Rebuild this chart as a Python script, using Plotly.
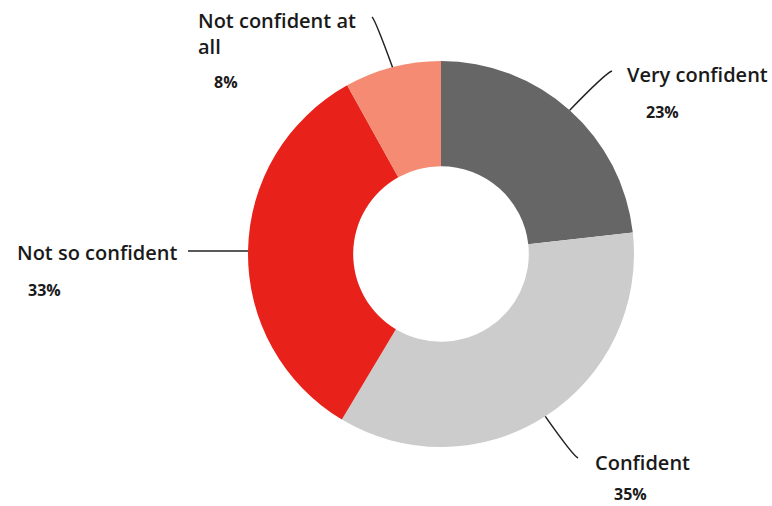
import math
import plotly.graph_objects as go

categories = ["Very confident", "Confident", "Not so confident", "Not confident at all"]
values = [23, 35, 33, 8]
pct_labels = ["23%", "35%", "33%", "8%"]
label_text = ["Very confident", "Confident", "Not so confident", "Not confident at<br>all"]
colors = ["#666666", "#cccccc", "#e8211a", "#f58b72"]

W, H = 772, 506
CX, CY, R = 441, 254, 193
HOLE = 0.455

fig = go.Figure()
fig.add_trace(go.Pie(
    labels=categories, values=values, hole=HOLE, sort=False, direction="clockwise",
    rotation=0, marker=dict(colors=colors, line=dict(width=0)),
    textinfo="none", hoverinfo="label+percent", showlegend=False,
    domain=dict(x=[(CX - R) / W, (CX + R) / W], y=[(H - CY - R) / H, (H - CY + R) / H]),
))

# label layout: (label x, label y, anchor, pct x, pct y, end x, end y)
layout_cfg = [
    (625, 74, "left", 662, 112, 612, 71),
    (593, 462, "left", 630, 494, 578, 458),
    (15, 252, "left", 44, 290, 188, 251),
    (196, 33, "left", 226, 82, 372, 17),
]

total = sum(values)
cum = 0
shapes = []
annotations = []
for i, v in enumerate(values):
    mid = (cum + v / 2) / total * 2 * math.pi
    cum += v
    sx = CX + R * math.sin(mid)
    sy = CY - R * math.cos(mid)
    lx, ly, anc, px, py, ex, ey = layout_cfg[i]
    cx_ = sx + (ex - sx) * (0.85 if abs(math.sin(mid)) < 0.9 else 0.5)
    cy_ = sy + (ey - sy) * 0.95
    if i == 2:
        path = f"M {sx:.1f} {sy:.1f} L {ex:.1f} {ey:.1f}"
    else:
        path = f"M {sx:.1f} {sy:.1f} Q {cx_:.1f} {cy_:.1f} {ex:.1f} {ey:.1f}"
    shapes.append(dict(type="path", path=path, xref="x", yref="y",
                       line=dict(color="#222222", width=1.5)))
    annotations.append(dict(x=lx, y=ly, xref="x", yref="y", text=label_text[i],
                            showarrow=False, xanchor=anc, yanchor="middle", align="left",
                            font=dict(family="Open Sans", size=20, color="#1a1a1a", weight=600)))
    annotations.append(dict(x=px, y=py, xref="x", yref="y", text=pct_labels[i],
                            showarrow=False, xanchor="center", yanchor="middle",
                            font=dict(family="Open Sans", size=16, color="#1a1a1a", weight=700)))

fig.update_layout(
    width=W, height=H, margin=dict(l=0, r=0, t=0, b=0),
    paper_bgcolor="white", plot_bgcolor="rgba(0,0,0,0)",
    xaxis=dict(range=[0, W], visible=False, fixedrange=True, domain=[0, 1]),
    yaxis=dict(range=[H, 0], visible=False, fixedrange=True, domain=[0, 1]),
    shapes=shapes, annotations=annotations,
)

fig.write_html("out.html", config={"displayModeBar": False},
               post_script="document.body.style.margin='0';document.body.style.overflow='hidden';")
